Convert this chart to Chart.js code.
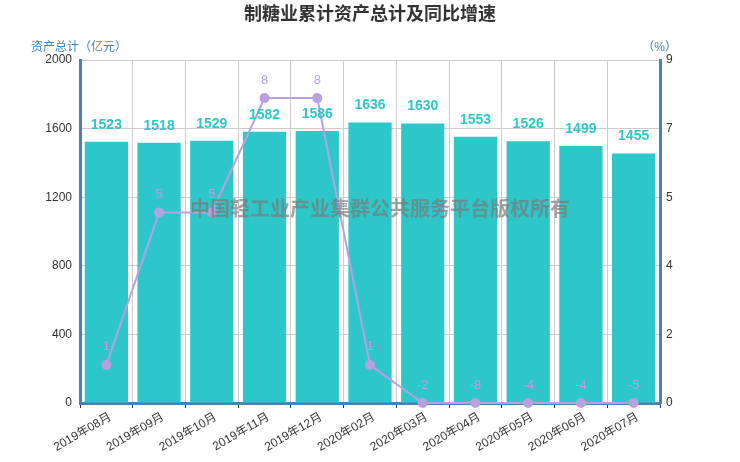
<!DOCTYPE html>
<html lang="zh">
<head>
  <meta charset="UTF-8">
  <title>制糖业累计资产总计及同比增速</title>
  <script src="https://cdn.jsdelivr.net/npm/chart.js"></script>
  <style>
    body { margin: 0; background: #fff; }
    .chart-wrapper { width: 740px; height: 462px; }
  </style>
</head>
<body>
  <div class="chart-wrapper">
    <canvas id="sugarChart" width="740" height="462"></canvas>
  </div>
  <script>
    const months = ['2019年08月', '2019年09月', '2019年10月', '2019年11月', '2019年12月', '2020年02月',
                    '2020年03月', '2020年04月', '2020年05月', '2020年06月', '2020年07月'];
    const totalAssets = [1523, 1518, 1529, 1582, 1586, 1636, 1630, 1553, 1526, 1499, 1455];
    const yoyGrowth = [1, 5, 5, 8, 8, 1, -2, -8, -4, -4, -5];

    const FONT = "'Liberation Sans', 'Noto Sans CJK SC', sans-serif";
    const BAR_COLOR = '#2ec7c9';
    const LINE_COLOR = '#b6a2de';
    const AXIS_COLOR = '#4682b4';

    // value labels, axis names and watermark
    const overlayPlugin = {
      id: 'overlay',
      afterDatasetsDraw(chart) {
        const ctx = chart.ctx;
        const area = chart.chartArea;
        ctx.save();

        ctx.font = 'bold 20px ' + FONT;
        ctx.fillStyle = 'rgba(122,122,122,0.7)';
        ctx.textAlign = 'center';
        ctx.textBaseline = 'middle';
        ctx.fillText('中国轻工业产业集群公共服务平台版权所有', (area.left + area.right) / 2 + 10, 210);

        const barMeta = chart.getDatasetMeta(1);
        ctx.font = 'bold 14px ' + FONT;
        ctx.fillStyle = BAR_COLOR;
        barMeta.data.forEach((el, i) => {
          ctx.fillText(totalAssets[i], el.x, el.y - 17);
        });

        const lineMeta = chart.getDatasetMeta(0);
        ctx.font = '13px ' + FONT;
        ctx.fillStyle = LINE_COLOR;
        lineMeta.data.forEach((el, i) => {
          ctx.fillText(yoyGrowth[i], el.x, el.y - 18);
        });

        ctx.font = '12px ' + FONT;
        ctx.fillStyle = '#3d86c6';
        ctx.textAlign = 'left';
        ctx.fillText('资产总计（亿元）', 31, 48);
        ctx.textAlign = 'right';
        ctx.fillText('（%）', 677, 48);
        ctx.restore();
      }
    };

    new Chart(document.getElementById('sugarChart'), {
      data: {
        labels: months,
        datasets: [{
          type: 'line',
          label: '同比增速',
          data: yoyGrowth.map(v => Math.max(0, v)),
          yAxisID: 'y1',
          borderColor: LINE_COLOR,
          backgroundColor: LINE_COLOR,
          borderWidth: 2,
          pointRadius: 4,
          pointHoverRadius: 4,
          tension: 0,
          clip: false,
          order: 0
        }, {
          type: 'bar',
          label: '资产总计',
          data: totalAssets,
          yAxisID: 'y',
          backgroundColor: BAR_COLOR,
          barPercentage: 0.82,
          categoryPercentage: 1,
          order: 1
        }]
      },
      options: {
        responsive: false,
        animation: false,
        layout: { padding: { left: 0, right: 0, top: 0, bottom: 0 } },
        plugins: {
          legend: { display: false },
          tooltip: { enabled: false },
          title: {
            display: true,
            text: '制糖业累计资产总计及同比增速',
            color: '#333',
            font: { family: FONT, size: 18, weight: 'bold' },
            padding: { top: 4, bottom: 34.4 }
          }
        },
        scales: {
          x: {
            offset: true,
            grid: { display: true, offset: true, color: '#ccc', tickColor: '#333', tickLength: 5 },
            border: { display: true, color: AXIS_COLOR, width: 3 },
            ticks: {
              color: '#333',
              font: { family: FONT, size: 12 },
              maxRotation: 30,
              minRotation: 30,
              padding: 2,
              labelOffset: 4,
              autoSkip: false
            },
            afterFit(scale) { scale.height = 59; }
          },
          y: {
            position: 'left',
            min: 0,
            max: 2000,
            ticks: {
              stepSize: 400,
              color: '#333',
              font: { family: FONT, size: 12 },
              padding: 8,
              callback: v => String(v)
            },
            grid: { color: '#ccc', drawTicks: false },
            border: { display: true, color: AXIS_COLOR, width: 3 },
            afterFit(scale) { scale.width = 80; }
          },
          y1: {
            position: 'right',
            min: 0,
            max: 9,
            ticks: {
              stepSize: 1.8,
              color: '#333',
              font: { family: FONT, size: 12 },
              padding: 6,
              callback: v => Math.round(v)
            },
            grid: { display: false, drawTicks: false },
            border: { display: true, color: AXIS_COLOR, width: 3 },
            afterFit(scale) { scale.width = 80; }
          }
        }
      },
      plugins: [overlayPlugin]
    });
  </script>
</body>
</html>
